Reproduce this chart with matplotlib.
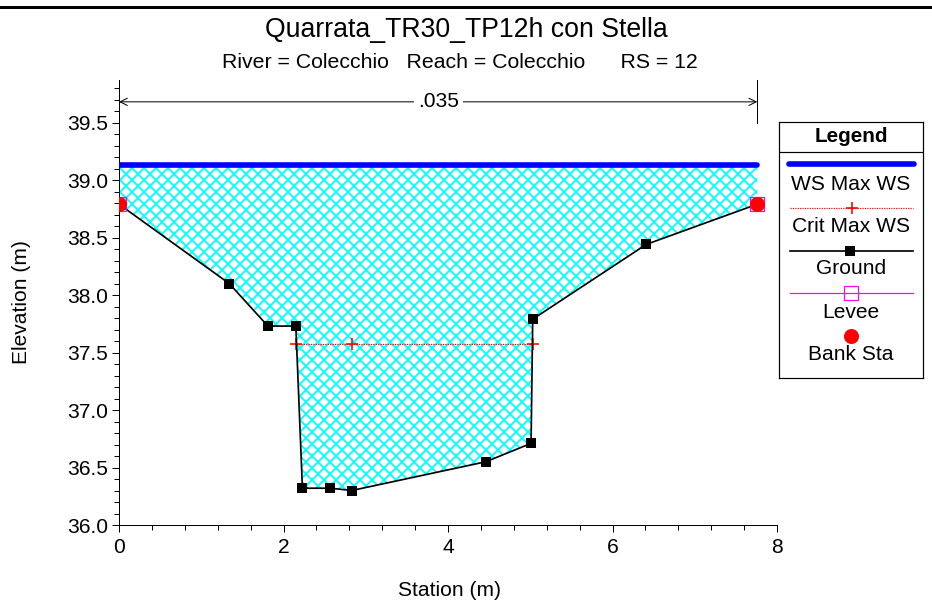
import matplotlib
matplotlib.use('Agg')
import matplotlib.pyplot as plt
from matplotlib.lines import Line2D
from matplotlib.ticker import MultipleLocator, FormatStrFormatter

# cross section data
station = [0.0, 1.34, 1.81, 2.15, 2.23, 2.57, 2.83, 4.46, 5.01, 5.03, 6.41, 7.76]
elevation = [38.79, 38.10, 37.73, 37.73, 36.32, 36.32, 36.30, 36.55, 36.71, 37.79, 38.44, 38.79]
ws_max = 39.13
crit_station = [2.15, 2.83, 5.03]
crit_ws = 37.57
bank_station = [0.0, 7.76]
bank_elev = [38.79, 38.79]
n_label = '.035'
n_elev = 39.68

title = 'Quarrata_TR30_TP12h con Stella'
subtitle = 'River = Colecchio   Reach = Colecchio      RS = 12'

plt.rcParams['font.family'] = ['Liberation Sans', 'DejaVu Sans']
plt.rcParams['hatch.linewidth'] = 0.9

W, H = 932, 605
fig = plt.figure(figsize=(W / 144, H / 144), dpi=144)
ax = fig.add_axes([119 / W, 1 - 525 / H, (777 - 119) / W, (525 - 80) / H])

# water fill
ax.fill_between(station, elevation, ws_max, facecolor='white', edgecolor='cyan',
                hatch='xxxx', linewidth=0, zorder=1)
ax.plot([station[0], station[-1]], [ws_max, ws_max], color='blue', lw=2.8,
        solid_capstyle='round', zorder=3)
ax.plot(crit_station, [crit_ws] * len(crit_station), color='red', lw=0.6,
        ls=(0, (1, 1)), marker='+', ms=6, mew=0.8, zorder=3)
ax.plot(station, elevation, color='black', lw=0.85, marker='s', ms=4.2, zorder=4)
ax.plot(bank_station, bank_elev, ls='none', marker='s', ms=7, mfc='none',
        mec='magenta', mew=0.6, zorder=5)
ax.plot(bank_station, bank_elev, ls='none', marker='o', ms=6.5, color='red', zorder=6)

# manning n annotation
ax.annotate('', xy=(station[0], n_elev), xytext=(station[-1], n_elev),
            arrowprops=dict(arrowstyle='<->', lw=0.5, color='black',
                            shrinkA=0, shrinkB=0, mutation_scale=9))
ax.text((station[0] + station[-1]) / 2, n_elev, n_label, ha='center', va='center',
        fontsize=10.5, bbox=dict(facecolor='white', edgecolor='none', pad=2))
ax.plot([station[-1], station[-1]], [39.5, 39.87], color='black', lw=0.5)

ax.set_xlim(0, 8)
ax.set_ylim(36.0, 39.87)
ax.spines['top'].set_visible(False)
ax.spines['right'].set_visible(False)
for s in ['left', 'bottom']:
    ax.spines[s].set_linewidth(0.5)
ax.xaxis.set_major_locator(MultipleLocator(2))
ax.xaxis.set_minor_locator(MultipleLocator(0.4))
ax.yaxis.set_major_locator(MultipleLocator(0.5))
ax.yaxis.set_minor_locator(MultipleLocator(0.1))
ax.yaxis.set_major_formatter(FormatStrFormatter('%.1f'))
ax.tick_params(which='major', direction='out', length=3.5, width=0.5, labelsize=10.5)
ax.tick_params(which='minor', direction='out', length=2.5, width=0.5)
ax.tick_params(axis='x', pad=3)
ax.tick_params(axis='y', pad=2)

fig.text(466 / W, 1 - 30 / H, title, ha='center', va='center', fontsize=13.3)
fig.text(460 / W, 1 - 62 / H, subtitle, ha='center', va='center', fontsize=10.6)
fig.text(450 / W, 1 - 590 / H, 'Station (m)', ha='center', va='center', fontsize=10.5)
fig.text(22 / W, 1 - 302 / H, 'Elevation (m)', ha='center', va='center',
         rotation=90, fontsize=10.5)

# top border line
fig.add_artist(Line2D([0, 1], [1 - 7 / H, 1 - 7 / H], color='black', lw=1.5))

# legend box drawn in pixel units
lg = fig.add_axes([779 / W, 1 - 378 / H, (923 - 779) / W, (378 - 122) / H])
lg.set_xlim(779, 923)
lg.set_ylim(378, 122)
lg.set_xticks([])
lg.set_yticks([])
for s in lg.spines.values():
    s.set_linewidth(0.6)
lg.axhline(152.3, color='black', lw=0.6)
lg.text(851, 136, 'Legend', ha='center', va='center', fontsize=10.3, fontweight='bold')
lg.plot([789, 914], [164.3, 164.3], color='blue', lw=2.8, solid_capstyle='round')
lg.text(851, 184, 'WS Max WS', ha='center', va='center', fontsize=10.5)
lg.plot([790, 913], [207.7, 207.7], color='red', lw=0.6, ls=(0, (1, 1)))
lg.plot([851.7], [207.7], color='red', marker='+', ms=6, mew=0.8)
lg.text(851, 227, 'Crit Max WS', ha='center', va='center', fontsize=10.5)
lg.plot([790, 913], [250.7, 250.7], color='black', lw=0.85)
lg.plot([850], [250.7], color='black', marker='s', ms=4.2)
lg.text(851, 268.5, 'Ground', ha='center', va='center', fontsize=10.5)
lg.plot([790, 913], [292.7, 292.7], color='magenta', lw=0.6)
lg.plot([851], [292.7], ls='none', marker='s', ms=7, mfc='none', mec='magenta', mew=0.6)
lg.text(851, 312, 'Levee', ha='center', va='center', fontsize=10.5)
lg.plot([851], [336], ls='none', marker='o', ms=6.5, color='red')
lg.text(851, 355, 'Bank Sta', ha='center', va='center', fontsize=10.5)

fig.savefig('out.png', dpi=144)
